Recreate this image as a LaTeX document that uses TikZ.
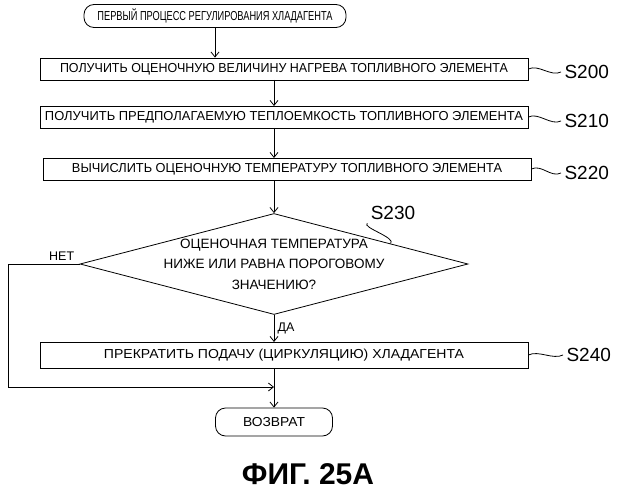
\documentclass[tikz,border=0pt]{standalone}
\usepackage{fontspec}
\usepackage{graphicx}
\setmainfont{Liberation Sans}
\usetikzlibrary{arrows.meta,shapes.geometric,calc}
\newcommand{\fitw}[2]{\resizebox{#1pt}{\height}{#2}}
\tikzset{
  stepbox/.style={draw, thick, minimum width=488pt, minimum height=22pt, inner sep=0pt, font=\fontsize{13}{14}\selectfont},
  term/.style={draw, thick, rounded corners=10pt, inner sep=0pt, font=\fontsize{13}{14}\selectfont},
  steplabel/.style={font=\fontsize{19}{20}\selectfont, anchor=west},
  flow/.style={thick, -{Straight Barb[length=5pt,width=8pt]}},
}
\begin{document}
\begin{tikzpicture}[x=1pt, y=-1pt]
  \useasboundingbox (0,0) rectangle (618,500);

  \node [term, minimum width=262pt, minimum height=23pt] (start) at (215,16) {\fitw{235}{ПЕРВЫЙ ПРОЦЕСС РЕГУЛИРОВАНИЯ ХЛАДАГЕНТА}};
  \node [stepbox] (s200) at (284,69) {\fitw{448}{ПОЛУЧИТЬ ОЦЕНОЧНУЮ ВЕЛИЧИНУ НАГРЕВА ТОПЛИВНОГО ЭЛЕМЕНТА}};
  \node [stepbox] (s210) at (284,117) {\fitw{478}{ПОЛУЧИТЬ ПРЕДПОЛАГАЕМУЮ ТЕПЛОЕМКОСТЬ ТОПЛИВНОГО ЭЛЕМЕНТА}};
  \node [stepbox] (s220) at (287,169) {\fitw{430}{ВЫЧИСЛИТЬ ОЦЕНОЧНУЮ ТЕМПЕРАТУРУ ТОПЛИВНОГО ЭЛЕМЕНТА}};
  \node [draw, thick, diamond, aspect=3.84, minimum width=388pt, minimum height=101pt, inner sep=0pt] (s230) at (274,264) {};
  \node [align=center, font=\fontsize{13.5}{20.5}\selectfont] (s230t) at (274,264)
        {ОЦЕНОЧНАЯ ТЕМПЕРАТУРА\\НИЖЕ ИЛИ РАВНА ПОРОГОВОМУ\\ЗНАЧЕНИЮ?};
  \node [stepbox, minimum height=26pt] (s240) at (284,355) {\fitw{360}{ПРЕКРАТИТЬ ПОДАЧУ (ЦИРКУЛЯЦИЮ) ХЛАДАГЕНТА}};
  \node [term, minimum width=117pt, minimum height=28pt] (ret) at (274,422) {\fitw{62}{ВОЗВРАТ}};
  \coordinate (join) at (274,387);

  % step labels
  \node [steplabel] (l200) at (561,72) {S200};
  \node [steplabel] (l210) at (561,121) {S210};
  \node [steplabel] (l220) at (561,173) {S220};
  \node [steplabel] (l240) at (563,355) {S240};
  \node [font=\fontsize{19}{20}\selectfont] (l230) at (393,213) {S230};
  \foreach \b/\l in {s200/l200, s210/l210, s220/l220, s240/l240}
    \draw [thick] (\b.east) .. controls +(10,-5) and +(-10,5) .. (\l.west);
  \draw [thick] (l230.south west) .. controls +(-6,4) and +(6,-6) .. ($(s230.north)!0.6!(s230.east)$);

  % flow
  \draw [flow] (start) -- (start |- s200.north);
  \draw [flow] (274,80) -- (274,106);
  \draw [flow] (274,128) -- (274,158);
  \draw [flow] (274,180) -- (s230.north);
  \draw [flow] (s230.south) -- node [right, font=\fontsize{12.5}{13}\selectfont] {ДА} (274,342);
  \draw [thick] (274,368) -- (join);
  \draw [flow] (join) -- (ret.north);
  \draw [flow] (s230.west) -- node [above, pos=0.25, font=\fontsize{12.5}{13}\selectfont] {НЕТ} (8,264) -- (8,387) -- (join);

  \node [font=\bfseries\fontsize{30}{32}\selectfont] (fig) at (308,474) {ФИГ. 25А};
\end{tikzpicture}
\end{document}
